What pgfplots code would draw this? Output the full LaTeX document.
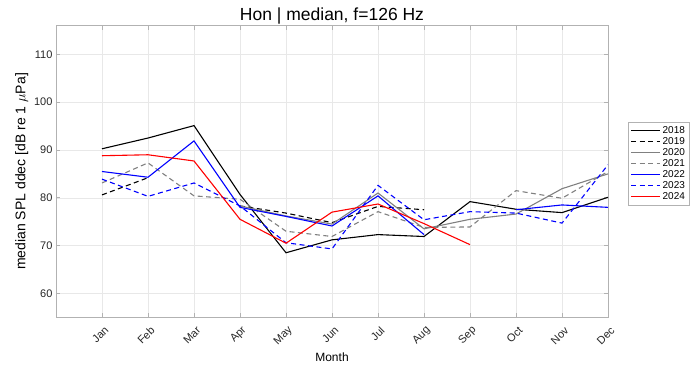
\documentclass[border=0pt]{standalone}
\usepackage{fontspec}
\setmainfont{Liberation Sans}
\usepackage{pgfplots}
\usepackage{pgfplotstable}
\pgfplotsset{compat=1.18}
\definecolor{mgray}{rgb}{0.5,0.5,0.5}
\definecolor{axgray}{rgb}{0.15,0.15,0.15}
\pgfplotstableread{
m y2018 y2019 y2020 y2021 y2022 y2023 y2024
1 90.25 80.6 nan 83.1 85.5 83.9 88.8
2 92.5 84.2 nan 87.3 84.3 80.3 89.0
3 95.1 nan nan 80.4 91.9 83.1 87.7
4 80.7 78.3 78.3 79.7 78.0 78.3 75.5
5 68.5 76.8 76.2 73.0 76.1 70.6 70.5
6 71.2 74.8 74.5 71.9 74.1 69.3 77.0
7 72.3 78.2 81.0 77.1 80.4 82.6 78.7
8 71.9 77.5 73.5 73.8 72.3 75.4 74.6
9 79.2 nan 75.5 73.9 nan 77.1 70.2
10 77.6 nan 76.6 81.5 77.5 76.8 nan
11 76.9 nan 81.9 79.9 78.5 74.7 nan
12 80.1 nan 85.0 85.5 78.0 86.9 nan
}\data
\begin{document}
\begin{tikzpicture}[x=1pt,y=1pt]
\useasboundingbox (0,0) rectangle (694,366);
\begin{axis}[
  at={(56pt,48.7pt)}, anchor=south west, scale only axis,
  width=552pt, height=291.6pt,
  xmin=0, xmax=12, ymin=55, ymax=116,
  clip mode=individual,
  xtick={1,...,12},
  xticklabels={Jan,Feb,Mar,Apr,May,Jun,Jul,Aug,Sep,Oct,Nov,Dec},
  ytick={60,70,80,90,100,110},
  /pgf/number format/assume math mode=true,
  tick label style={font=\fontsize{11}{12}\selectfont, text=axgray},
  xticklabel style={rotate=45, anchor=east, xshift=-1.2pt, yshift=-11.3pt},
  grid=major, grid style={gray!18, line width=0.5pt},
  axis line style={gray!60, line width=0.6pt},
  tick style={gray!60, line width=0.6pt},
  major tick length=4pt,
  tick align=inside,
  unbounded coords=jump,
  xlabel={Month},
  xlabel style={font=\fontsize{12}{14}\selectfont, at={(rel axis cs:0.5,-0.136)}, anchor=center},
  ylabel={median SPL ddec [dB re 1 $\mu$Pa]},
  ylabel style={font=\fontsize{14}{16}\selectfont, at={(rel axis cs:-0.062,0.5)}, anchor=center},
  legend style={at={(1.036,0.67)}, anchor=north west, draw=gray!60,
    font=\fontsize{10}{11}\selectfont, row sep=-1.5pt, inner sep=2.5pt,
    cells={anchor=west}},
  legend image code/.code={\draw[#1] (0pt,0pt) -- (29pt,0pt);},
]
\addplot[black, line width=1.1pt] table[x=m,y=y2018]{\data};
\addlegendentry{2018}
\addplot[black, line width=1.1pt, dash pattern=on 5pt off 3.5pt] table[x=m,y=y2019]{\data};
\addlegendentry{2019}
\addplot[mgray, line width=1.1pt] table[x=m,y=y2020]{\data};
\addlegendentry{2020}
\addplot[mgray, line width=1.1pt, dash pattern=on 5pt off 3.5pt] table[x=m,y=y2021]{\data};
\addlegendentry{2021}
\addplot[blue, line width=1.1pt] table[x=m,y=y2022]{\data};
\addlegendentry{2022}
\addplot[blue, line width=1.1pt, dash pattern=on 5pt off 3.5pt] table[x=m,y=y2023]{\data};
\addlegendentry{2023}
\addplot[red, line width=1.1pt] table[x=m,y=y2024]{\data};
\addlegendentry{2024}
\node[anchor=base, font=\fontsize{17.5}{19}\selectfont, yshift=5pt] at (rel axis cs:0.5,1) {Hon | median, f=126 Hz};
\end{axis}
\end{tikzpicture}
\end{document}
